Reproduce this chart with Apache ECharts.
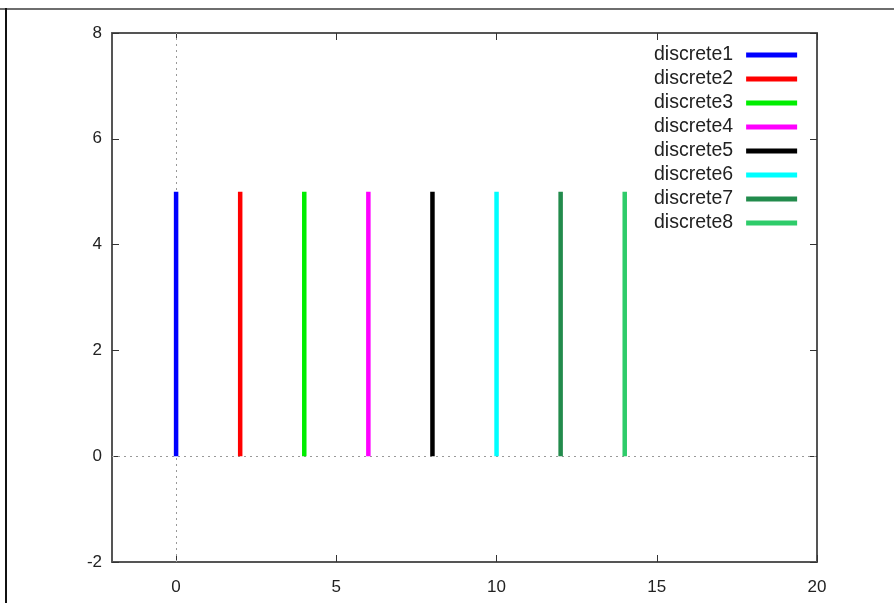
<!DOCTYPE html>
<html>
<head>
<meta charset="utf-8">
<script src="https://cdn.jsdelivr.net/npm/echarts@6/dist/echarts.min.js"></script>
<style>
html,body{margin:0;padding:0;background:#fff;}
#wrap{position:relative;width:894px;height:603px;}
#chart{position:absolute;left:0;top:0;width:894px;height:603px;}
#bt{position:absolute;left:0;top:8px;width:894px;height:0;border-top:2px solid #6e6e6e;}
#bl{position:absolute;left:5px;top:8px;width:0;height:595px;border-left:2px solid #111;}
</style>
</head>
<body>
<div id="wrap"><div id="chart"></div><div id="bt"></div><div id="bl"></div></div>
<script>
// Data
const seriesNames = ['discrete1','discrete2','discrete3','discrete4','discrete5','discrete6','discrete7','discrete8'];
const xPositions = [0, 2, 4, 6, 8, 10, 12, 14];
const yBottom = [0, 0, 0, 0, 0, 0, 0, 0];
const yTop = [5, 5, 5, 5, 5, 5, 5, 5];
const colors = ['#0000ff','#ff0000','#00ee00','#ff00ff','#000000','#00ffff','#228b4c','#2ecc6a'];
const xTicks = [0, 5, 10, 15, 20];

const chart = echarts.init(document.getElementById('chart'), null, {renderer:'canvas'});
const frameColor = '#555555';
const font = 'Liberation Sans, Arial, sans-serif';

const series = seriesNames.map((n, i) => ({
  name: n,
  type: 'line',
  xAxisIndex: 0, yAxisIndex: 0,
  data: [[xPositions[i], yBottom[i]], [xPositions[i], yTop[i]]],
  symbol: 'none',
  color: colors[i],
  lineStyle: {width: 4.5, color: colors[i], cap: 'butt'},
  z: 5,
  animation: false
}));
series.push({
  name: '__zero',
  type: 'line',
  data: [],
  symbol: 'none',
  silent: true,
  z: 1,
  markLine: {
    silent: true,
    symbol: ['none','none'],
    label: {show: false},
    lineStyle: {type: [2, 4], color: '#999999', width: 1},
    data: [{xAxis: 0}, {yAxis: 0}],
    animation: false
  }
});

chart.setOption({
  animation: false,
  backgroundColor: '#fff',
  grid: {left: 112, right: 77, top: 33, bottom: 41, containLabel: false},
  legend: {
    data: seriesNames,
    orient: 'vertical',
    left: 649, top: 40,
    align: 'right',
    icon: 'rect',
    itemWidth: 51, itemHeight: 5,
    itemGap: 4,
    textStyle: {fontFamily: font, fontSize: 19.5, color: '#222', padding: [0, 8, 0, 0]}
  },
  xAxis: [{
    type: 'value', min: -2, max: 20, position: 'bottom',
    axisLine: {show: true, onZero: false, lineStyle: {color: frameColor, width: 2}},
    axisTick: {show: true, inside: true, length: 7, customValues: xTicks, lineStyle: {color: '#333', width: 1}},
    axisLabel: {show: true, customValues: xTicks, margin: 17, fontFamily: font, fontSize: 17, color: '#222'},
    splitLine: {show: false}
  }, {
    type: 'value', min: -2, max: 20, position: 'top',
    axisLine: {show: true, onZero: false, lineStyle: {color: frameColor, width: 2}},
    axisTick: {show: true, inside: true, length: 7, customValues: xTicks, lineStyle: {color: '#333', width: 1}},
    axisLabel: {show: false},
    splitLine: {show: false}
  }],
  yAxis: [{
    type: 'value', min: -2, max: 8, interval: 2, position: 'left',
    axisLine: {show: true, onZero: false, lineStyle: {color: frameColor, width: 2}},
    axisTick: {show: true, inside: true, length: 7, lineStyle: {color: '#333', width: 1}},
    axisLabel: {show: true, margin: 10, fontFamily: font, fontSize: 17, color: '#222'},
    splitLine: {show: false}
  }, {
    type: 'value', min: -2, max: 8, interval: 2, position: 'right',
    axisLine: {show: true, onZero: false, lineStyle: {color: frameColor, width: 2}},
    axisTick: {show: true, inside: true, length: 7, lineStyle: {color: '#333', width: 1}},
    axisLabel: {show: false},
    splitLine: {show: false}
  }],
  series: series
});
</script>
</body>
</html>
